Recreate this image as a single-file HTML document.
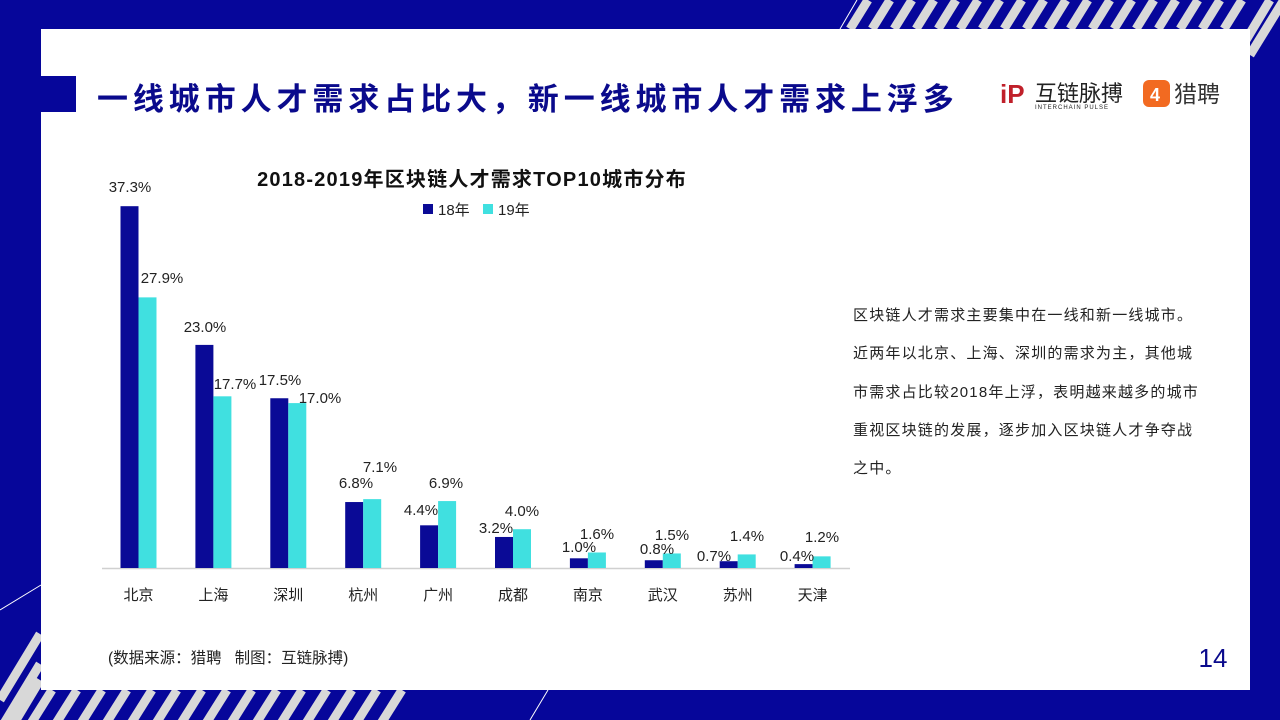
<!DOCTYPE html>
<html><head><meta charset="utf-8"><style>
body{margin:0;width:1280px;height:720px;overflow:hidden;background:#06069a;font-family:"Liberation Sans","Noto Sans CJK SC",sans-serif;position:relative}
.abs{position:absolute}
</style></head><body>
<svg class="abs" style="left:0;top:0" width="1280" height="720">
<g stroke="#d8d8d8" stroke-width="9">
<line x1="850" y1="29" x2="868" y2="0"/><line x1="872" y1="29" x2="890" y2="0"/><line x1="894" y1="29" x2="912" y2="0"/><line x1="916" y1="29" x2="934" y2="0"/><line x1="938" y1="29" x2="956" y2="0"/><line x1="960" y1="29" x2="978" y2="0"/><line x1="982" y1="29" x2="1000" y2="0"/><line x1="1004" y1="29" x2="1022" y2="0"/><line x1="1026" y1="29" x2="1044" y2="0"/><line x1="1048" y1="29" x2="1066" y2="0"/><line x1="1070" y1="29" x2="1088" y2="0"/><line x1="1092" y1="29" x2="1110" y2="0"/><line x1="1114" y1="29" x2="1132" y2="0"/><line x1="1136" y1="29" x2="1154" y2="0"/><line x1="1158" y1="29" x2="1176" y2="0"/><line x1="1180" y1="29" x2="1198" y2="0"/><line x1="1202" y1="29" x2="1220" y2="0"/><line x1="1224" y1="29" x2="1242" y2="0"/><line x1="1246" y1="40" x2="1270" y2="0"/><line x1="1250" y1="55" x2="1290" y2="-10"/>
</g>
<line x1="840" y1="29" x2="857" y2="0" stroke="#fff" stroke-width="1"/>
<g stroke="#d8d8d8" stroke-width="9">
<line x1="0" y1="700" x2="40" y2="634"/><line x1="0" y1="730" x2="40" y2="664"/><line x1="10" y1="730" x2="40" y2="680"/>
<line x1="30" y1="725" x2="52" y2="690"/><line x1="55" y1="725" x2="77" y2="690"/><line x1="80" y1="725" x2="102" y2="690"/><line x1="105" y1="725" x2="127" y2="690"/><line x1="130" y1="725" x2="152" y2="690"/><line x1="155" y1="725" x2="177" y2="690"/><line x1="180" y1="725" x2="202" y2="690"/><line x1="205" y1="725" x2="227" y2="690"/><line x1="230" y1="725" x2="252" y2="690"/><line x1="255" y1="725" x2="277" y2="690"/><line x1="280" y1="725" x2="302" y2="690"/><line x1="305" y1="725" x2="327" y2="690"/><line x1="330" y1="725" x2="352" y2="690"/><line x1="355" y1="725" x2="377" y2="690"/><line x1="380" y1="725" x2="402" y2="690"/>
</g>
<line x1="0" y1="610" x2="41" y2="585" stroke="#fff" stroke-width="1"/>
<line x1="530" y1="720" x2="548" y2="690" stroke="#fff" stroke-width="1"/>
<rect x="41" y="29" width="1209" height="661" fill="#fff"/>
<rect x="41" y="76" width="35" height="36" fill="#06069a"/>
<text x="97" y="110" font-size="31" font-weight="bold" fill="#0a0a8c" letter-spacing="4.9">一线城市人才需求占比大，新一线城市人才需求上浮多</text>
<text x="1000" y="103" font-size="26" font-weight="bold" fill="#c0202a">iP</text>
<text x="1035" y="101" font-size="22" fill="#222">互链脉搏</text>
<text x="1035" y="109" font-size="6" fill="#222" letter-spacing="1">INTERCHAIN PULSE</text>
<rect x="1143" y="80" width="27" height="27" rx="6" fill="#f26a21"/>
<text x="1150" y="101" font-size="18" font-weight="bold" fill="#fff">4</text>
<text x="1174" y="102" font-size="23" fill="#333">猎聘</text>
<text x="472" y="186" font-size="20" font-weight="bold" fill="#111" text-anchor="middle" letter-spacing="1.2">2018-2019年区块链人才需求TOP10城市分布</text>
<rect x="423" y="204" width="10" height="10" fill="#0a0a96"/><text x="438" y="215" font-size="15" fill="#222">18年</text>
<rect x="483" y="204" width="10" height="10" fill="#40e0e0"/><text x="498" y="215" font-size="15" fill="#222">19年</text>
<line x1="102" y1="568.5" x2="850" y2="568.5" stroke="#d0d0d0" stroke-width="1.5"/>
<g font-size="15" fill="#222" text-anchor="middle" id="g"></g>
<text x="108" y="663" font-size="15.5" fill="#222" style="white-space:pre">(数据来源：猎聘   制图：互链脉搏)</text>
<text x="1213" y="667" font-size="26" fill="#0a0a8c" text-anchor="middle">14</text>
</svg>
<div class="abs" style="left:853px;top:297px;width:380px;font-size:15px;line-height:38.3px;color:#222;white-space:nowrap;letter-spacing:1.2px">区块链人才需求主要集中在一线和新一线城市。<br>近两年以北京、上海、深圳的需求为主，其他城<br>市需求占比较2018年上浮，表明越来越多的城市<br>重视区块链的发展，逐步加入区块链人才争夺战<br>之中。</div>
<script>
var c=["北京","上海","深圳","杭州","广州","成都","南京","武汉","苏州","天津"],a=[37.3,23,17.5,6.8,4.4,3.2,1,0.8,0.7,0.4],b=[27.9,17.7,17,7.1,6.9,4,1.6,1.5,1.4,1.2];
var la=[[130,187],[205,327],[280,380],[356,483],[421,510],[496,528],[579,547],[657,549],[714,556],[797,556]];
var lb=[[162,278],[235,384],[320,398],[380,467],[446,483],[522,511],[597,534],[672,535],[747,536],[822,537]];
var s="",k=9.7;
for(var i=0;i<10;i++){var x=138.5+i*74.9,h1=a[i]*k,h2=b[i]*k;
s+='<rect x="'+(x-18)+'" y="'+(568-h1)+'" width="18" height="'+h1+'" fill="#0a0a96"/>';
s+='<rect x="'+x+'" y="'+(568-h2)+'" width="18" height="'+h2+'" fill="#40e0e0"/>';
s+='<text x="'+la[i][0]+'" y="'+(la[i][1]+5)+'">'+a[i].toFixed(1)+'%</text>';
s+='<text x="'+lb[i][0]+'" y="'+(lb[i][1]+5)+'">'+b[i].toFixed(1)+'%</text>';
s+='<text x="'+x+'" y="600">'+c[i]+'</text>';}
document.getElementById("g").innerHTML=s;
</script>
</body></html>
